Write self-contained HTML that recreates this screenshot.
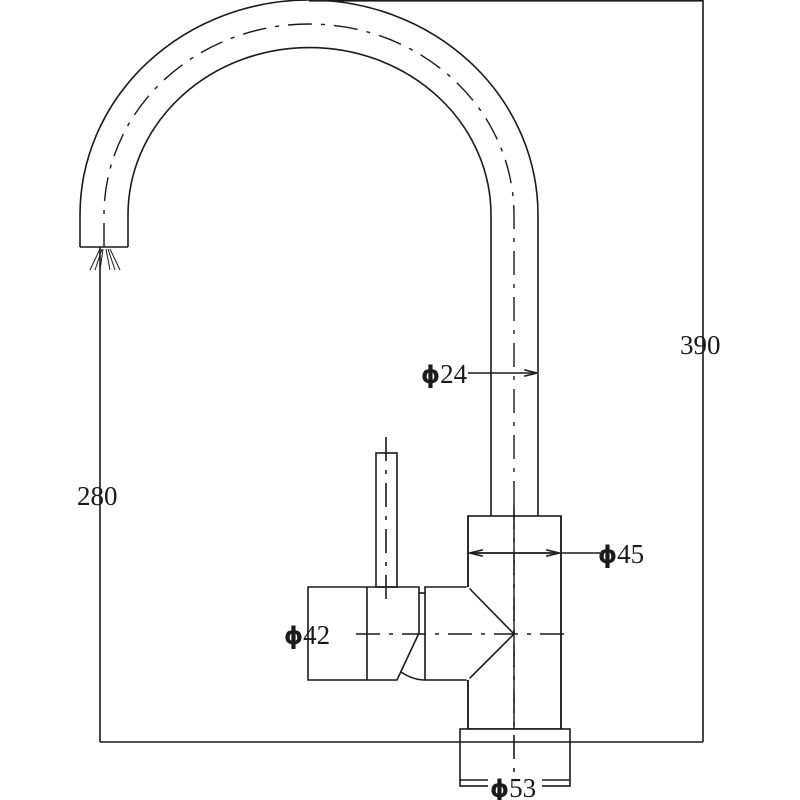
<!DOCTYPE html>
<html><head><style>body{margin:0;background:#fff}svg{display:block}</style></head><body>
<svg width="800" height="800" viewBox="0 0 800 800" xmlns="http://www.w3.org/2000/svg">
<defs><marker id="a" markerWidth="8" markerHeight="6" refX="8" refY="3" orient="auto"><path d="M0,1 L8,3 L0,5" fill="none" stroke="#222" stroke-width="1"/></marker></defs>
<g fill="none" stroke="#1a1a1a" stroke-width="1.6">
<path d="M80,247 L80,215 A229,215 0 0 1 538,215 L538,516"/>
<path d="M128,247 L128,215 A181,167 0 0 1 491,215 L491,516"/>
<line x1="80" y1="247" x2="128" y2="247"/>
<path d="M104,247 L104,215 A205,191 0 0 1 514,215 L514,780" stroke-width="1.4" stroke-dasharray="24,9,4,9"/>
<g stroke-width="1"><line x1="100" y1="249" x2="90" y2="270"/><line x1="102" y1="249" x2="95" y2="270"/><line x1="103" y1="249" x2="100" y2="270"/><line x1="106" y1="249" x2="110" y2="270"/><line x1="108" y1="249" x2="115" y2="270"/><line x1="110" y1="249" x2="120" y2="270"/></g>
<line x1="309" y1="0.8" x2="703" y2="0.8"/>
<line x1="703" y1="0" x2="703" y2="742"/>
<line x1="100" y1="247" x2="100" y2="742"/>
<line x1="100" y1="742" x2="703" y2="742"/>
<rect x="468" y="516" width="93" height="213"/>
<rect x="460" y="729" width="110" height="57" fill="#fff"/>
<line x1="460" y1="742" x2="570" y2="742"/>
<line x1="514" y1="505" x2="514" y2="790" stroke-dasharray="24,9,4,9"/>
<path d="M468,587 L425,587 L425,680 L468,680 L514,634 Z" fill="#fff"/>
<line x1="468" y1="587" x2="468" y2="680" stroke="#fff" stroke-width="3"/>
<line x1="468" y1="516" x2="468" y2="587"/>
<line x1="468" y1="680" x2="468" y2="729"/>
<line x1="561" y1="516" x2="561" y2="729"/>
<rect x="376" y="453" width="21" height="134"/>
<path d="M308,587 L419,587 L419,633 L397,680 L308,680 Z"/>
<line x1="367" y1="587" x2="367" y2="680"/>
<path d="M401,672 Q413,680 425,680"/>
<line x1="419" y1="593" x2="425" y2="593"/>
<line x1="386" y1="437" x2="386" y2="600" stroke-dasharray="24,9,4,9"/>
<line x1="356" y1="634" x2="572" y2="634" stroke-dasharray="24,9,4,9"/>
<line x1="468" y1="373" x2="537" y2="373" marker-end="url(#a)"/>
<line x1="600" y1="553" x2="470" y2="553" marker-end="url(#a)"/>
<line x1="468" y1="553" x2="559" y2="553" marker-end="url(#a)"/>
<line x1="460" y1="780" x2="570" y2="780"/>
</g>
<g font-family="'Liberation Serif',serif" font-size="27" fill="#1a1a1a">
<text x="421" y="383"><tspan font-family="'DejaVu Sans',sans-serif" font-weight="bold" font-size="24">ϕ</tspan>24</text>
<text x="598" y="563"><tspan font-family="'DejaVu Sans',sans-serif" font-weight="bold" font-size="24">ϕ</tspan>45</text>
<text x="284" y="644"><tspan font-family="'DejaVu Sans',sans-serif" font-weight="bold" font-size="24">ϕ</tspan>42</text>
<rect x="488" y="772" width="54" height="28" fill="#fff"/>
<text x="490" y="797"><tspan font-family="'DejaVu Sans',sans-serif" font-weight="bold" font-size="24">ϕ</tspan>53</text>
<text x="680" y="354">390</text>
<text x="77" y="505">280</text>
</g>
</svg>
</body></html>
